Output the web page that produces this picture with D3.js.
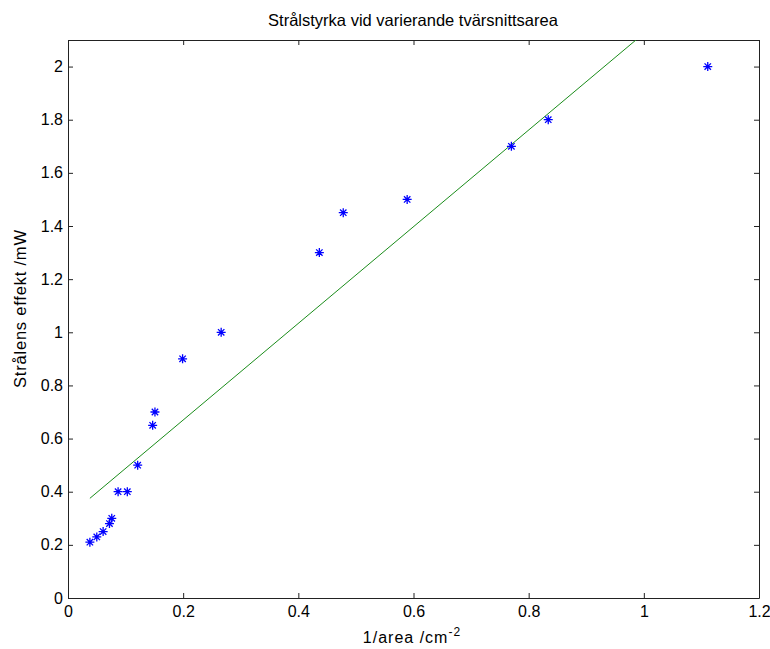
<!DOCTYPE html>
<html>
<head>
<meta charset="utf-8">
<script src="https://cdn.jsdelivr.net/npm/d3@7"></script>
<style>
  html, body { margin: 0; padding: 0; background: #fff; }
  text { font-family: Arial, "Liberation Sans", Helvetica, sans-serif; fill: #000; }
</style>
</head>
<body>
<svg id="chart" width="770" height="649"></svg>
<script>
// ---- data ----
const xValues = [0.038, 0.050, 0.061, 0.072, 0.076, 0.087, 0.103, 0.121, 0.147, 0.151, 0.199, 0.266, 0.4365, 0.478, 0.589, 0.770, 0.834, 1.111];
const yValues = [0.21, 0.23, 0.25, 0.28, 0.30, 0.40, 0.40, 0.50, 0.65, 0.70, 0.90, 1.00, 1.30, 1.45, 1.50, 1.70, 1.80, 2.00];
const fitSlope = 1.819;
const fitIntercept = 0.306;
const xTicks = [0, 0.2, 0.4, 0.6, 0.8, 1, 1.2];
const yTicks = [0, 0.2, 0.4, 0.6, 0.8, 1, 1.2, 1.4, 1.6, 1.8, 2];
const titleText = "Strålstyrka vid varierande tvärsnittsarea";
const xLabelText = "1/area /cm";
const xLabelSup = "-2";
const yLabelText = "Strålens effekt /mW";

(function () {
const svg = d3.select("#chart");
const pL = 68, pR = 759, pT = 40, pB = 598;
const x = d3.scaleLinear().domain([0, 1.2]).range([pL, pR]);
const y = d3.scaleLinear().domain([0, 2.1]).range([pB, pT]);
const fmt = d => String(+d.toFixed(1));

svg.append("defs").append("clipPath").attr("id", "clip")
  .append("rect").attr("x", pL).attr("y", pT).attr("width", pR - pL).attr("height", pB - pT);

const tickLen = 5;
const gx = svg.append("g").attr("transform", `translate(0,${pB})`)
  .call(d3.axisBottom(x).tickValues(xTicks).tickFormat(fmt).tickSizeInner(-tickLen).tickSizeOuter(0).tickPadding(8));
const gxTop = svg.append("g").attr("transform", `translate(0,${pT})`)
  .call(d3.axisTop(x).tickValues(xTicks).tickFormat("").tickSizeInner(-tickLen).tickSizeOuter(0));
const gy = svg.append("g").attr("transform", `translate(${pL},0)`)
  .call(d3.axisLeft(y).tickValues(yTicks).tickFormat(fmt).tickSizeInner(-tickLen).tickSizeOuter(0).tickPadding(5));
const gyR = svg.append("g").attr("transform", `translate(${pR},0)`)
  .call(d3.axisRight(y).tickValues(yTicks).tickFormat("").tickSizeInner(-tickLen).tickSizeOuter(0));

[gx, gxTop, gy, gyR].forEach(g => {
  g.selectAll("path.domain").attr("stroke", "#222").attr("stroke-width", 1);
  g.selectAll(".tick line").attr("stroke", "#222");
  g.selectAll(".tick text").attr("font-size", 16).attr("fill", "#222")
    .attr("font-family", "Arial, 'Liberation Sans', sans-serif");
});

// fit line
const xMin = d3.min(xValues), xMax = d3.max(xValues);
const fitData = [xMin, xMax].map(v => [v, fitIntercept + fitSlope * v]);
svg.append("path")
  .datum(fitData)
  .attr("clip-path", "url(#clip)")
  .attr("fill", "none")
  .attr("stroke", "#1a8c1a")
  .attr("stroke-width", 1)
  .attr("d", d3.line().x(d => x(d[0])).y(d => y(d[1])));

// asterisk markers
const pts = xValues.map((v, i) => [v, yValues[i]]);
const r = 4.5, rd = 3.2;
const mk = svg.append("g").attr("stroke", "#0000ff").attr("stroke-width", 1.3);
pts.forEach(([vx, vy]) => {
  const cx = x(vx), cy = y(vy);
  mk.append("path").attr("d",
    `M${cx - r},${cy}L${cx + r},${cy}M${cx},${cy - r}L${cx},${cy + r}` +
    `M${cx - rd},${cy - rd}L${cx + rd},${cy + rd}M${cx - rd},${cy + rd}L${cx + rd},${cy - rd}`);
});

// title
svg.append("text").attr("x", 413).attr("y", 26)
  .attr("text-anchor", "middle").attr("font-size", 16.5).attr("fill", "#222").text(titleText);

// x label
const xl = svg.append("text").attr("x", 412).attr("y", 643)
  .attr("text-anchor", "middle").attr("font-size", 16).attr("fill", "#222")
  .attr("letter-spacing", 1);
xl.append("tspan").text(xLabelText);
xl.append("tspan").attr("dy", -7).attr("font-size", 12).text(xLabelSup);

// y label
svg.append("text")
  .attr("transform", `translate(26,309) rotate(-90)`)
  .attr("text-anchor", "middle").attr("font-size", 16.5).attr("fill", "#222")
  .attr("textLength", 158).attr("lengthAdjust", "spacing").text(yLabelText);
})();
</script>
</body>
</html>
